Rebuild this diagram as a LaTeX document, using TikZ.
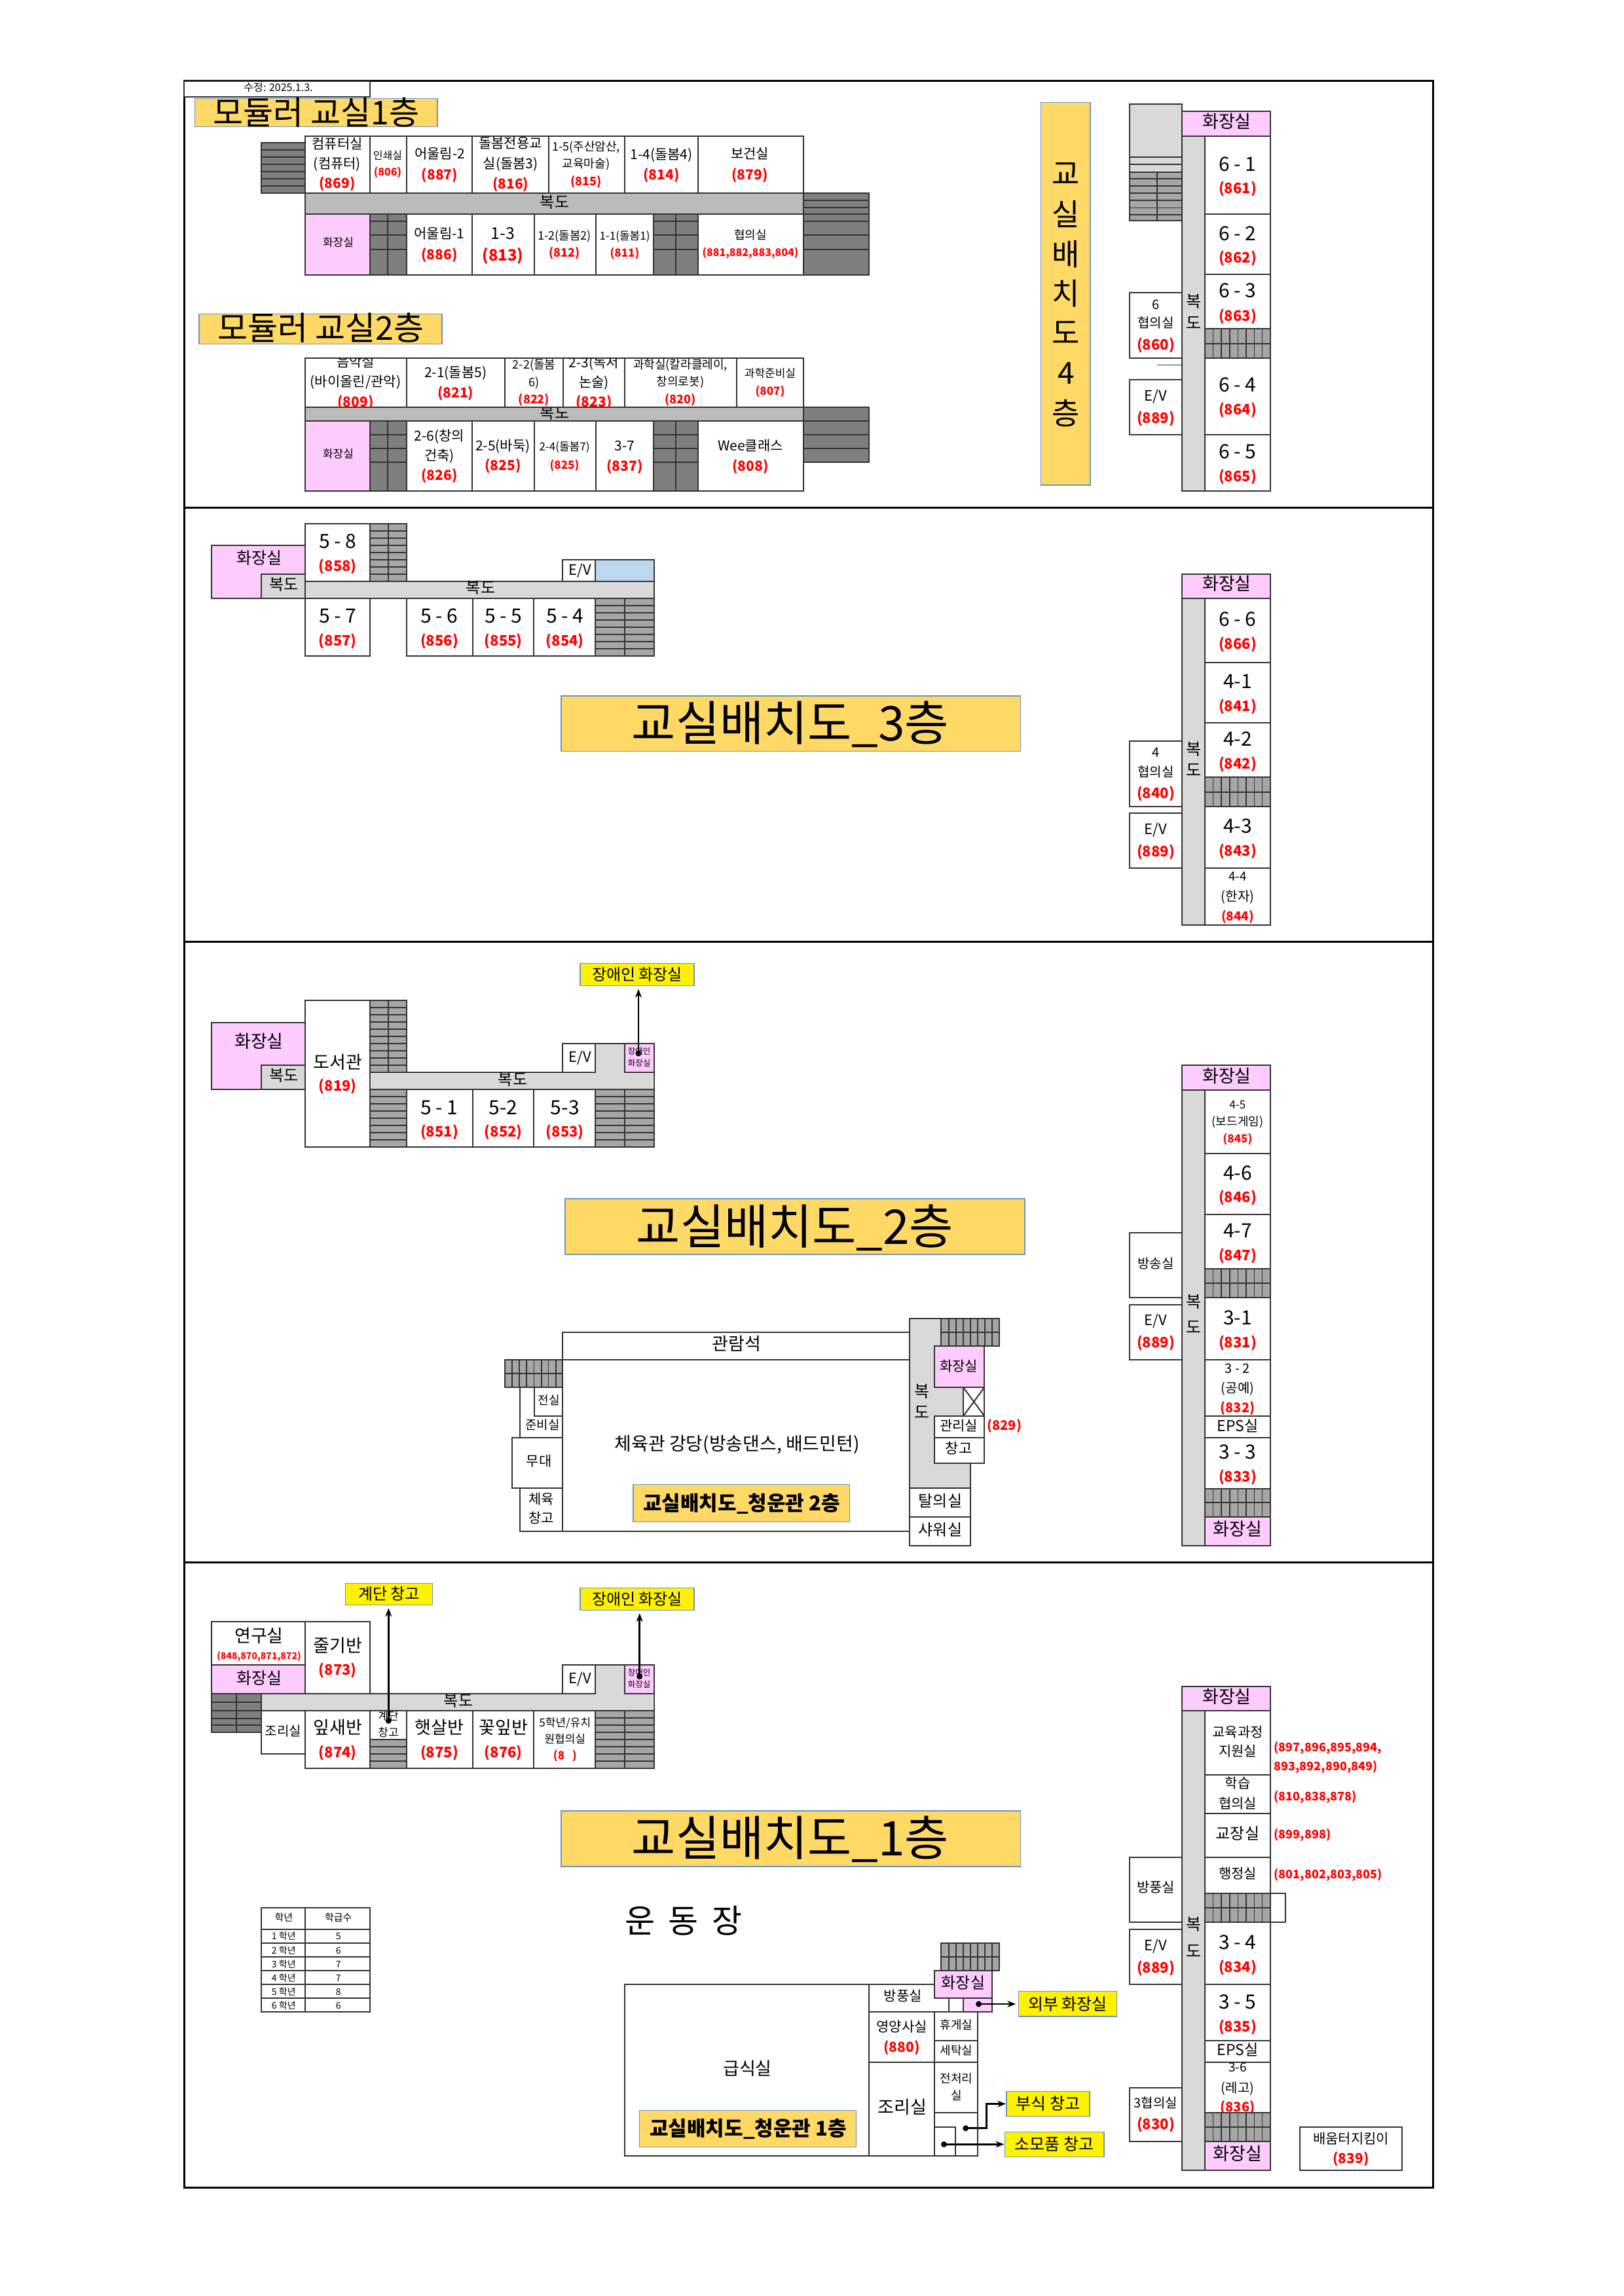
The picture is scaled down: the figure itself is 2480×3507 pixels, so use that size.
\documentclass[tikz,border=0pt]{standalone}
\usepackage{fontspec}
\setmainfont{Noto Sans CJK KR}
\usetikzlibrary{arrows.meta}
\definecolor{pinkroom}{HTML}{FFCCFF}
\definecolor{hallA}{HTML}{BBBBBB}
\definecolor{hallB}{HTML}{D9D9D9}
\definecolor{stairA}{HTML}{7F7F7F}
\definecolor{stairB}{HTML}{A6A6A6}
\definecolor{titleY}{HTML}{FFD966}
\definecolor{titleB}{HTML}{6C93C4}
\definecolor{liftB}{HTML}{BDD7EE}
\definecolor{numred}{HTML}{FF0000}
\definecolor{wall}{HTML}{333333}
\newcounter{tn}
\tikzset{
  roomline/.style={draw=wall,line width=2pt},
  stairline/.style={draw=wall,line width=1.8pt},
  txt/.style={inner sep=0pt,outer sep=0pt,align=center},
  titlebox/.style={fill=titleY,draw=titleB,line width=1.3pt},
  ylabel/.style={fill=yellow,draw=titleB,line width=1.3pt,inner sep=0pt,outer sep=0pt},
  conn/.style={line width=2.8pt,-{Stealth[length=13pt,width=10pt]}},
  frameline/.style={draw=black,line width=3pt}
}
\newcommand\Rm[5]{\path[roomline,fill=#5] (#1,#2) rectangle (#3,#4);}
\newcommand\Tx[4]{\stepcounter{tn}\node[txt,font=\fontsize{#3}{#3}\selectfont,text height=#3*0.8pt,text depth=#3*0.08pt] (t\arabic{tn}) at (#1,#2) {#4};}
\newcommand\Bx[4]{\stepcounter{tn}\node[txt,font=\fontsize{#3}{#3}\selectfont\bfseries,text height=#3*0.8pt,text depth=#3*0.08pt] (t\arabic{tn}) at (#1,#2) {#4};}
\newcommand\Rd[4]{\stepcounter{tn}\node[txt,text=numred,font=\fontsize{#3}{#3}\selectfont\bfseries,text height=#3*0.8pt,text depth=#3*0.08pt] (t\arabic{tn}) at (#1,#2) {#4};}
\newcommand\RdW[4]{\stepcounter{tn}\node[txt,anchor=west,text=numred,font=\fontsize{#3}{#3}\selectfont\bfseries,text height=#3*0.8pt,text depth=#3*0.08pt] (t\arabic{tn}) at (#1,#2) {#4};}
% horizontal and vertical line sets
\newcommand\HL[3]{\foreach \yy in {#3} \draw[stairline] (#1,\yy) -- (#2,\yy);}
\newcommand\VL[3]{\foreach \xx in {#3} \draw[stairline] (\xx,#1) -- (\xx,#2);}
% stair column beside the long corridor
\newcommand\ColStair[3]{\Rm{1840}{#1}{1939.7}{#3}{stairB}\HL{1840}{1939.7}{#2}\VL{#1}{#3}{1852.5,1865,1877.7,1890.4,1903,1915.5,1927.5}}
\newcommand\StEleven[6]{\Rm{#1}{#2}{#3}{#4}{#5}\HL{#1}{#3}{#6}}
\begin{document}
\begin{tikzpicture}[x=1pt,y=-1pt]
\useasboundingbox (0,0) rectangle (2480,3507);
\fill[white] (0,0) rectangle (2480,3507);
%--- frame
\draw[frameline] (281,123.5) rectangle (2188,3341);
\draw[frameline] (281,775) -- (2188,775);
\draw[frameline] (281,1438) -- (2188,1438);
\draw[frameline] (281,2386) -- (2188,2386);
\Rm{281}{123.5}{565}{148}{white}
\Tx{425}{134}{16}{수정: 2025.1.3.}
%--- module titles
\path[titlebox] (297.5,150.4) rectangle (668,193.3);
\Tx{483}{172}{50}{모듈러 교실1층}
\path[titlebox] (304,479.5) rectangle (675,525.4);
\Tx{489.6}{501.4}{50}{모듈러 교실2층}
%--- module floor 1
\StEleven{399}{218}{466}{295.2}{stairA}{229,240,251,262,273,283.8}
\Rm{466}{207.6}{565}{295.2}{white}
\Rm{565}{207.6}{620.5}{295.2}{white}
\Rm{620.5}{207.6}{721}{295.2}{white}
\Rm{721}{207.6}{837.5}{295.2}{white}
\Rm{837.5}{207.6}{954}{295.2}{white}
\Rm{954}{207.6}{1065.5}{295.2}{white}
\Rm{1065.5}{207.6}{1226.6}{295.2}{white}
\Rm{466}{295.2}{1226.6}{327.2}{hallA}
\Rm{466}{327.2}{565}{419.8}{pinkroom}
\Rm{565}{327.2}{620.5}{419.8}{stairA}\HL{565}{620.5}{337.7,359.2,381}\VL{327.2}{419.8}{592}
\Rm{620.5}{327.2}{721}{419.8}{white}
\Rm{721}{327.2}{815.5}{419.8}{white}
\Rm{815.5}{327.2}{910}{419.8}{white}
\Rm{910}{327.2}{998}{419.8}{white}
\Rm{998}{327.2}{1065.5}{419.8}{stairA}\HL{998}{1065.5}{337.7,359.2,381}\VL{327.2}{419.8}{1032}
\Rm{1065.5}{327.2}{1226.6}{419.8}{white}
\StEleven{1226.6}{295.2}{1327}{419.8}{stairA}{306,317,327.2,337.7,359.2,381}
\Tx{515}{220}{21}{컴퓨터실}\Tx{515}{250}{21}{(컴퓨터)}\Rd{515}{280}{21}{(869)}
\Tx{592}{237.5}{16}{인쇄실}\Rd{592}{263}{16}{(806)}
\Tx{671.5}{235}{21}{어울림-2}\Rd{671.5}{266.6}{21}{(887)}
\Tx{779.6}{219.4}{21}{돌봄전용교}\Tx{779.6}{250}{21}{실(돌봄3)}\Rd{779.6}{281}{21}{(816)}
\Tx{895}{224.5}{18}{1-5(주산암산,}\Tx{895}{250}{18}{교육마술)}\Rd{895}{277}{18}{(815)}
\Tx{1010}{236}{21}{1-4(돌봄4)}\Rd{1010}{266.6}{21}{(814)}
\Tx{1145}{234.6}{21}{보건실}\Rd{1145}{266.6}{21}{(879)}
\Tx{847}{309}{24}{복도}
\Tx{516.5}{370}{17}{화장실}
\Tx{671}{357}{21}{어울림-1}\Rd{671}{388.6}{21}{(886)}
\Tx{768}{356}{25}{1-3}\Rd{768}{390}{24}{(813)}
\Tx{862}{360}{18}{1-2(돌봄2)}\Rd{862}{386}{18}{(812)}
\Tx{954}{360}{17}{1-1(돌봄1)}\Rd{954}{386}{17}{(811)}
\Tx{1146}{359}{18}{협의실}\Rd{1146}{386}{16}{(881,882,883,804)}
%--- module floor 2
\Rm{466}{546.9}{620.5}{621.8}{white}
\Rm{620.5}{546.9}{771}{621.8}{white}
\Rm{771}{546.9}{859.5}{621.8}{white}
\Rm{859.5}{546.9}{954}{621.8}{white}
\Rm{954}{546.9}{1125}{621.8}{white}
\Rm{1125}{546.9}{1226.6}{621.8}{white}
\Rm{466}{621.8}{1226.6}{643.2}{hallA}
\Rm{466}{643.2}{565}{749.7}{pinkroom}
\Rm{565}{643.2}{620.5}{749.7}{stairA}\HL{565}{620.5}{664,685,706}\VL{643.2}{749.7}{592}
\Rm{620.5}{643.2}{721}{749.7}{white}
\Rm{721}{643.2}{815.5}{749.7}{white}
\Rm{815.5}{643.2}{910}{749.7}{white}
\Rm{910}{643.2}{998}{749.7}{white}
\Rm{998}{643.2}{1065.5}{749.7}{stairA}\HL{998}{1065.5}{664,685,706}\VL{643.2}{749.7}{1032}
\Rm{1065.5}{643.2}{1226.6}{749.7}{white}
\StEleven{1226.6}{621.8}{1327}{706}{stairA}{643.2,664,685}
\begin{scope}\clip (466,547) rectangle (620.5,621);
\Tx{543}{553}{21}{음악실}\Tx{543}{583}{21}{(바이올린/관악)}\Rd{543}{614}{21}{(809)}
\end{scope}
\Tx{695.6}{569}{21}{2-1(돌봄5)}\Rd{695.6}{599.5}{21}{(821)}
\Tx{815.5}{557}{18}{2-2(돌봄}\Tx{815.5}{584}{18}{6)}\Rd{815.5}{610}{18}{(822)}
\begin{scope}\clip (859.5,547) rectangle (954,621);
\Tx{907}{554}{21}{2-3(독서}\Tx{907}{584}{21}{논술)}\Rd{907}{614}{21}{(823)}
\end{scope}
\Tx{1039}{557}{18}{과학실(칼라클레이,}\Tx{1039}{583.5}{18}{창의로봇)}\Rd{1039}{610}{18}{(820)}
\Tx{1176}{570}{17}{과학준비실}\Rd{1176}{597}{17}{(807)}
\begin{scope}\clip (466,623) rectangle (1226,643);
\Tx{847}{630.6}{24}{복도}
\end{scope}
\Tx{516.5}{693}{17}{화장실}
\Tx{671}{666}{21}{2-6(창의}\Tx{671}{696}{21}{건축)}\Rd{671}{726}{21}{(826)}
\Tx{768}{680.7}{21}{2-5(바둑)}\Rd{768}{711}{21}{(825)}
\Tx{862}{682}{17}{2-4(돌봄7)}\Rd{862}{710}{17}{(825)}
\Tx{954}{681}{21}{3-7}\Rd{954}{712}{21}{(837)}
\Tx{1146}{681}{21}{Wee클래스}\Rd{1146}{712}{21}{(808)}
%--- 4F title
\path[titlebox] (1589.5,156.5) rectangle (1665,741);
\Tx{1628}{266}{46}{교}\Tx{1628}{328}{46}{실}\Tx{1628}{389}{46}{배}\Tx{1628}{449}{46}{치}\Tx{1628}{508.5}{46}{도}\Tx{1628}{570}{46}{4}\Tx{1628}{631.6}{46}{층}
%--- 4F column
\Rm{1725}{159}{1805.3}{337}{hallB}
\HL{1725}{1805.3}{240,251}
\Rm{1725}{262.7}{1805.3}{337}{stairB}\HL{1725}{1805.3}{273,284,295,306,317.4,328}\VL{262.7}{337}{1767}
\Rm{1805.3}{170}{1939.7}{207.5}{pinkroom}
\Rm{1805.3}{207.5}{1840}{750}{hallB}
\Rm{1840}{207.5}{1939.7}{327}{white}
\Rm{1840}{327}{1939.7}{419.4}{white}
\Rm{1840}{419.4}{1939.7}{502}{white}
\ColStair{502}{524.7}{546.7}
\Rm{1840}{546.7}{1939.7}{664}{white}
\Rm{1840}{664}{1939.7}{750}{white}
\Rm{1725}{447}{1805.3}{546.7}{white}
\draw[stairline] (1767,557.4) -- (1805.3,557.4);
\Rm{1725}{580}{1805.3}{664}{white}
\Tx{1873.5}{186}{27}{화장실}
\Tx{1822.6}{460}{25}{복}\Tx{1822.6}{493}{25}{도}
\Tx{1890}{250.6}{30}{6 - 1}\Rd{1890}{288}{22}{(861)}
\Tx{1890}{356.4}{30}{6 - 2}\Rd{1890}{394}{22}{(862)}
\Tx{1890}{444}{30}{6 - 3}\Rd{1890}{482.4}{22}{(863)}
\Tx{1890}{588}{30}{6 - 4}\Rd{1890}{626}{22}{(864)}
\Tx{1890}{689.7}{30}{6 - 5}\Rd{1890}{728}{22}{(865)}
\Tx{1765}{465}{20}{6}\Tx{1765}{493.6}{20}{협의실}\Rd{1765}{527}{22}{(860)}
\Tx{1765}{604.7}{22}{E/V}\Rd{1765}{638.7}{22}{(889)}
%--- 3F left
\Rm{322.8}{832.7}{465.8}{914}{pinkroom}
\Rm{399}{876.7}{465.8}{914}{hallB}
\Rm{465.8}{800}{565}{888}{white}
\Rm{565}{800}{621}{888}{stairB}\HL{565}{621}{811,822,833,844,855,866,877}\VL{800}{888}{593}
\Rm{859}{855}{909.3}{888}{white}
\Rm{909.3}{855}{999}{888}{liftB}
\Rm{465.8}{888}{999}{914}{hallB}
\Rm{465.8}{914}{565}{1002}{white}
\Rm{621}{914}{721.7}{1002}{white}
\Rm{721.7}{914}{815}{1002}{white}
\Rm{815}{914}{909.3}{1002}{white}
\Rm{909.3}{914}{999}{1002}{stairB}\HL{909.3}{999}{925,936,947,958,969,980,991}\VL{914}{1002}{954}
\Tx{395.5}{852}{25}{화장실}\Tx{433.8}{892.7}{24}{복도}\Tx{734}{898}{24}{복도}
\Tx{515.7}{826.7}{30}{5 - 8}\Rd{515.7}{865}{22}{(858)}
\Tx{515.7}{940.7}{30}{5 - 7}\Rd{515.7}{979}{22}{(857)}
\Tx{671}{940.7}{30}{5 - 6}\Rd{671}{979}{22}{(856)}
\Tx{768.7}{940.7}{30}{5 - 5}\Rd{768.7}{979}{22}{(855)}
\Tx{862.8}{940.7}{30}{5 - 4}\Rd{862.8}{979}{22}{(854)}
\Tx{886}{870.7}{22}{E/V}
\path[titlebox] (857,1063) rectangle (1558.6,1147.7);
\Tx{1207}{1105}{73}{교실배치도\_3층}
%--- 3F right
\Rm{1805.3}{876.7}{1939.7}{914}{pinkroom}
\Rm{1805.3}{914}{1840}{1412.5}{hallB}
\Rm{1840}{914}{1939.7}{1011.6}{white}
\Rm{1840}{1011.6}{1939.7}{1104.3}{white}
\Rm{1840}{1104.3}{1939.7}{1187}{white}
\ColStair{1187}{1209.7}{1231.5}
\Rm{1840}{1231.5}{1939.7}{1326.4}{white}
\Rm{1840}{1326.4}{1939.7}{1412.5}{white}
\Rm{1725}{1131.5}{1805.3}{1231.5}{white}
\Rm{1725}{1242.4}{1805.3}{1326.4}{white}
\Tx{1873.5}{892}{27}{화장실}
\Tx{1822.7}{1144.6}{25}{복}\Tx{1822.7}{1176}{25}{도}
\Tx{1890}{946}{30}{6 - 6}\Rd{1890}{983.6}{22}{(866)}
\Tx{1890}{1040.7}{30}{4-1}\Rd{1890}{1079}{22}{(841)}
\Tx{1890}{1129}{30}{4-2}\Rd{1890}{1167}{22}{(842)}
\Tx{1890}{1262}{30}{4-3}\Rd{1890}{1300}{22}{(843)}
\Tx{1890}{1339}{19}{4-4}\Tx{1890}{1369}{20}{(한자)}\Rd{1890}{1400}{19}{(844)}
\Tx{1765}{1149.7}{20}{4}\Tx{1765}{1179}{20}{협의실}\Rd{1765}{1211.5}{22}{(840)}
\Tx{1765}{1267}{22}{E/V}\Rd{1765}{1300.6}{22}{(889)}
%--- 2F left
\Rm{322.8}{1561.7}{465.8}{1664.3}{pinkroom}
\Rm{399}{1627.3}{465.8}{1664.3}{hallB}
\Rm{465.8}{1528.3}{565}{1752.3}{white}
\Rm{565}{1528.3}{621}{1638.3}{stairB}\HL{565}{621}{1539.3,1550.3,1561.3,1572.3,1583.3,1594.3,1605.3,1616.3,1627.3}\VL{1528.3}{1638.3}{593}
\Rm{909.3}{1594.3}{954}{1638.3}{hallB}
\Rm{859}{1594.3}{909.3}{1638.3}{white}
\Rm{954}{1594.3}{999}{1638.3}{pinkroom}
\path[fill=hallB] (567,1640) rectangle (997,1663);
\draw[roomline] (565,1638.3) -- (909.3,1638.3) (954,1638.3) -- (999,1638.3) -- (999,1664.3) -- (565,1664.3);
\path[fill=hallB] (910.3,1595.3) rectangle (953,1663);
\Rm{565}{1664.3}{621}{1752.3}{stairB}\HL{565}{621}{1675.3,1686.3,1697.3,1708.3,1719.3,1730.3,1741.3}
\Rm{621}{1664.3}{721.7}{1752.3}{white}
\Rm{721.7}{1664.3}{815}{1752.3}{white}
\Rm{815}{1664.3}{909.3}{1752.3}{white}
\Rm{909.3}{1664.3}{999}{1752.3}{stairB}\HL{909.3}{999}{1675.3,1686.3,1697.3,1708.3,1719.3,1730.3,1741.3}\VL{1664.3}{1752.3}{954}
\Tx{395.5}{1591}{27}{화장실}\Tx{433.8}{1642.7}{24}{복도}
\Tx{515.7}{1622.7}{27}{도서관}\Rd{515.7}{1659}{22}{(819)}
\Tx{783}{1649}{24}{복도}\Tx{886}{1615}{22}{E/V}
\Tx{976}{1606}{12.5}{장애인}\Tx{976}{1624}{12.5}{화장실}
\Tx{671}{1691.7}{30}{5 - 1}\Rd{671}{1729}{22}{(851)}
\Tx{768.7}{1691.7}{30}{5-2}\Rd{768.7}{1729}{22}{(852)}
\Tx{862.8}{1691.7}{30}{5-3}\Rd{862.8}{1729}{22}{(853)}
\node[ylabel,minimum width=174pt,minimum height=34pt,font=\fontsize{24}{24}\selectfont] (labA) at (973,1488.7) {장애인 화장실};
\coordinate (dotA) at (975,1609);
\fill (dotA) circle (4.5);
\draw[conn,shorten >=5pt] (dotA) -- (labA.south -| dotA);
\path[titlebox] (863,1831) rectangle (1565,1916);
\Tx{1214}{1874}{73}{교실배치도\_2층}
%--- gym
\Rm{859}{2034.7}{1388.6}{2077}{white}
\Rm{859}{2077}{1388.6}{2339}{white}
\Rm{793.6}{2119}{859}{2196}{white}
\Rm{815.5}{2119}{859}{2163.3}{white}
\Rm{781.8}{2196}{859}{2273.3}{white}
\Rm{793.6}{2273.3}{859}{2339}{white}
\Rm{771}{2077}{859}{2119}{stairB}\HL{771}{859}{2098}\VL{2077}{2119}{781.8,793,804.3,815.5,826.8,837.5,848.7}
\Rm{1388.6}{2014}{1481.8}{2273.3}{hallB}
\Rm{1437.4}{2014}{1525.7}{2056}{stairB}\HL{1437.4}{1525.7}{2035}\VL{2014}{2056}{1448.6,1460,1471,1481.8,1493,1503.8,1515}
\Rm{1426.7}{2056}{1503.3}{2119}{pinkroom}
\Rm{1471}{2119}{1503.3}{2163}{white}
\draw[roomline] (1471,2119) -- (1503.3,2163) (1503.3,2119) -- (1471,2163);
\Rm{1426.7}{2163}{1503.3}{2196}{white}
\Rm{1426.7}{2196}{1503.3}{2235}{white}
\Rm{1388.6}{2273.3}{1481.8}{2317}{white}
\Rm{1388.6}{2317}{1481.8}{2361}{white}
\Tx{1124.6}{2053}{27}{관람석}
\Tx{1125.6}{2205}{28}{체육관 강당(방송댄스, 배드민턴)}
\Tx{838.5}{2139}{18}{전실}\Tx{828.4}{2176.7}{19}{준비실}\Tx{823}{2231.7}{21}{무대}
\Tx{826.8}{2290}{21}{체육}\Tx{826.8}{2319.3}{21}{창고}
\Tx{1464}{2086.7}{21}{화장실}\Tx{1464}{2178}{21}{관리실}\Rd{1533.8}{2177.7}{20}{(829)}
\Tx{1464}{2212.7}{22}{창고}\Tx{1436}{2292.7}{24}{탈의실}\Tx{1436}{2336.7}{24}{샤워실}
\Tx{1408}{2125}{25}{복}\Tx{1408}{2157.7}{25}{도}
\path[titlebox] (967,2267.7) rectangle (1297.6,2324.3);
\Bx{1132.6}{2296.7}{31}{교실배치도\_청운관 2층}
%--- 2F right
\Rm{1805.3}{1627.4}{1939.7}{1664.7}{pinkroom}
\Rm{1805.3}{1664.7}{1840}{2361}{hallB}
\Rm{1840}{1664.7}{1939.7}{1762}{white}
\Rm{1840}{1762}{1939.7}{1855}{white}
\Rm{1840}{1855}{1939.7}{1937.8}{white}
\ColStair{1937.8}{1960}{1982}
\Rm{1840}{1982}{1939.7}{2077}{white}
\Rm{1840}{2077}{1939.7}{2163}{white}
\Rm{1840}{2163}{1939.7}{2195.5}{white}
\Rm{1840}{2195.5}{1939.7}{2273.6}{white}
\ColStair{2273.6}{2295}{2317.4}
\Rm{1840}{2317.4}{1939.7}{2361}{pinkroom}
\Rm{1725}{1882.6}{1805.3}{1982}{white}
\Rm{1725}{1993}{1805.3}{2077}{white}
\Tx{1873.5}{1643.8}{27}{화장실}
\Tx{1822.7}{1988}{25}{복}\Tx{1822.7}{2027.9}{25}{도}
\Tx{1890}{1687}{17}{4-5}\Tx{1890}{1713}{18}{(보드게임)}\Rd{1890}{1739}{17}{(845)}
\Tx{1890}{1791.5}{30}{4-6}\Rd{1890}{1829}{22}{(846)}
\Tx{1890}{1879.6}{30}{4-7}\Rd{1890}{1917.4}{22}{(847)}
\Tx{1890}{2012.4}{30}{3-1}\Rd{1890}{2050.7}{22}{(831)}
\Tx{1890}{2090}{20}{3 - 2}\Tx{1890}{2120}{20}{(공예)}\Rd{1890}{2150}{20}{(832)}
\Tx{1890}{2178}{23}{EPS실}
\Tx{1890}{2217.4}{30}{3 - 3}\Rd{1890}{2255.7}{22}{(833)}
\Tx{1890}{2335.3}{27}{화장실}
\Tx{1765}{1930}{20}{방송실}
\Tx{1765}{2017}{22}{E/V}\Rd{1765}{2050.7}{22}{(889)}
%--- 1F left
\Rm{322.8}{2477.3}{465.8}{2543.3}{white}
\Rm{322.8}{2543.3}{465.8}{2586.7}{pinkroom}
\Rm{465.8}{2477.3}{565}{2586.7}{white}
\Rm{322.8}{2586.7}{399}{2646}{stairA}\HL{322.8}{399}{2600,2613.3,2624.7,2635.3}\VL{2586.7}{2646}{361}
\Rm{859}{2543.3}{909.3}{2586.7}{white}
\Rm{909.3}{2543.3}{954}{2586.7}{hallB}
\Rm{954}{2543.3}{999}{2586.7}{pinkroom}
\path[fill=hallB] (400,2588) rectangle (997,2612);
\draw[roomline] (909.3,2586.7) -- (399,2586.7) -- (399,2613.3) -- (999,2613.3) -- (999,2586.7) -- (954,2586.7);
\path[fill=hallB] (910.3,2544.3) rectangle (953,2612);
\Rm{399}{2613.3}{465.8}{2678.7}{white}
\Rm{465.8}{2613.3}{565}{2701}{white}
\Rm{565}{2613.3}{621}{2656.7}{white}
\Rm{565}{2656.7}{621}{2701}{stairB}\HL{565}{621}{2668.3,2679.3,2690}
\Rm{621}{2613.3}{721.7}{2701}{white}
\Rm{721.7}{2613.3}{815}{2701}{white}
\Rm{815}{2613.3}{909.3}{2701}{white}
\Rm{909.3}{2613.3}{999}{2701}{stairB}\HL{909.3}{999}{2624.3,2635.3,2646.3,2657.3,2668.3,2679.3,2690.3}\VL{2613.3}{2701}{954}
\Tx{395.5}{2498.3}{27}{연구실}\Rd{395.5}{2529.3}{14}{(848,870,871,872)}
\Tx{395.5}{2563.3}{25}{화장실}
\Tx{515.7}{2514}{27}{줄기반}\Rd{515.7}{2551}{22}{(873)}
\Tx{886}{2564}{22}{E/V}
\Tx{976}{2555}{12.5}{장애인}\Tx{976}{2572.7}{12.5}{화장실}
\Tx{700}{2597.7}{24}{복도}
\Tx{432.3}{2644}{20}{조리실}
\Tx{515.7}{2639}{27}{잎새반}\Rd{515.7}{2676.7}{22}{(874)}
\begin{scope}\clip (565,2614) rectangle (621,2656);
\Tx{593}{2621}{17}{계단}\Tx{593}{2646}{17}{창고}
\end{scope}
\Tx{671}{2639}{27}{햇살반}\Rd{671}{2676.7}{22}{(875)}
\Tx{768.7}{2639}{27}{꽃잎반}\Rd{768.7}{2676.7}{22}{(876)}
\Tx{862.8}{2631.7}{17}{5학년/유치}\Tx{862.8}{2656}{17}{원협의실}\Rd{862.8}{2681.7}{17}{(8 \ \ )}
\node[ylabel,minimum width=133pt,minimum height=33pt,font=\fontsize{24}{24}\selectfont] (labB) at (594.2,2434.8) {계단 창고};
\coordinate (dotB) at (593.3,2628.3);
\fill (dotB) circle (4.5);
\draw[conn,shorten >=5pt] (dotB) -- (labB.south -| dotB);
\node[ylabel,minimum width=174pt,minimum height=34pt,font=\fontsize{24}{24}\selectfont] (labC) at (973,2442.2) {장애인 화장실};
\coordinate (dotC) at (976.7,2560.7);
\fill (dotC) circle (4.5);
\draw[conn,shorten >=5pt] (dotC) -- (labC.south -| dotC);
\path[titlebox] (857,2766) rectangle (1558.6,2851);
\Tx{1207}{2808}{73}{교실배치도\_1층}
\Tx{1044}{2934}{50}{운\hspace{.42em}동\hspace{.42em}장}
%--- table
\draw[roomline,fill=white] (398.7,2914) rectangle (565,3073);
\HL{398.7}{565}{2946.7,2968,2989,3010.3,3031.3,3052.3}
\VL{2914}{3073}{465.7}
\Tx{433.3}{2929}{15}{학년}\Tx{516.7}{2929}{15}{학급수}
\Tx{433.3}{2957.7}{14}{1 학년}\Tx{516.7}{2957.7}{14}{5}
\Tx{433.3}{2979}{14}{2 학년}\Tx{516.7}{2979}{14}{6}
\Tx{433.3}{3000}{14}{3 학년}\Tx{516.7}{3000}{14}{7}
\Tx{433.3}{3021}{14}{4 학년}\Tx{516.7}{3021}{14}{7}
\Tx{433.3}{3042}{14}{5 학년}\Tx{516.7}{3042}{14}{8}
\Tx{433.3}{3063}{14}{6 학년}\Tx{516.7}{3063}{14}{6}
%--- cafeteria
\Rm{953.8}{3031}{1327.2}{3292.7}{white}
\Rm{1327.2}{3031}{1448.7}{3073}{white}
\Rm{1437.4}{2967.7}{1526.2}{3010.3}{stairB}\HL{1437.4}{1526.2}{2989}\VL{2967.7}{3010.3}{1448.7,1460,1470.6,1481.8,1493,1504,1515}
\Rm{1426.7}{3010.3}{1515}{3052}{pinkroom}
\Rm{1448.7}{3052}{1471}{3073}{white}
\Rm{1471}{3052}{1515}{3073}{pinkroom}
\Rm{1327.2}{3073}{1426.7}{3150}{white}
\Rm{1327.2}{3150}{1426.7}{3292.7}{white}
\Rm{1426.7}{3073}{1492.6}{3116.7}{white}
\Rm{1426.7}{3116.7}{1492.6}{3150}{white}
\Rm{1426.7}{3150}{1492.6}{3226.7}{white}
\Rm{1426.7}{3226.7}{1492.6}{3292.7}{white}
\Rm{1426.7}{3249}{1459.4}{3292.7}{white}
\Tx{1141.5}{3159.3}{27}{급식실}
\path[titlebox] (976.7,3223.3) rectangle (1307.3,3279.3);
\Bx{1142.6}{3251.7}{31}{교실배치도\_청운관 1층}
\Tx{1378.8}{3049.3}{21}{방풍실}
\Tx{1471}{3029.3}{24}{화장실}
\Tx{1377}{3095.7}{21}{영양사실}\Rd{1377}{3126.7}{21}{(880)}
\Tx{1377.8}{3218.3}{27}{조리실}
\Tx{1460.4}{3093.3}{18}{휴게실}\Tx{1460.4}{3131.7}{18}{세탁실}
\Tx{1460.4}{3175}{18}{전처리}\Tx{1460.4}{3200.7}{18}{실}
\node[ylabel,minimum width=150.5pt,minimum height=38.7pt,font=\fontsize{25}{25}\selectfont] (labD) at (1630.5,3060.7) {외부 화장실};
\node[ylabel,minimum width=127pt,minimum height=38.4pt,font=\fontsize{25}{25}\selectfont] (labE) at (1600.5,3213.5) {부식 창고};
\node[ylabel,minimum width=151.6pt,minimum height=38.4pt,font=\fontsize{25}{25}\selectfont] (labF) at (1610.2,3275.5) {소모품 창고};
\coordinate (dotD) at (1494.6,3061);
\coordinate (dotE) at (1474.7,3250.7);
\coordinate (dotF) at (1441.5,3275.3);
\fill (dotD) circle (4.5);
\fill (dotE) circle (4.5);
\fill (dotF) circle (4.5);
\draw[conn,shorten >=4pt] (dotD) -- (labD.west |- dotD);
\draw[conn,shorten >=1pt] (dotE) -- (1506.3,3250.7) |- (labE.west);
\draw[conn,shorten >=1pt] (dotF) -- (labF.west |- dotF);
%--- 1F right
\Rm{1805.3}{2575.9}{1939.7}{2613.2}{pinkroom}
\Rm{1805.3}{2613.2}{1840}{3315}{hallB}
\Rm{1840}{2613.2}{1939.7}{2710.7}{white}
\Rm{1840}{2710.7}{1939.7}{2770.4}{white}
\Rm{1840}{2770.4}{1939.7}{2837}{white}
\Rm{1840}{2837}{1939.7}{2891.8}{white}
\Rm{1939.7}{2891.8}{1962.7}{2936}{white}
\ColStair{2891.8}{2914}{2936}
\Rm{1840}{2936}{1939.7}{3031}{white}
\Rm{1840}{3031}{1939.7}{3117}{white}
\Rm{1840}{3117}{1939.7}{3150}{white}
\Rm{1840}{3150}{1939.7}{3227}{white}
\Rm{1840}{3271}{1939.7}{3315}{pinkroom}
\Rm{1725}{2837}{1805.3}{2936}{white}
\Rm{1725}{2947}{1805.3}{3031}{white}
\Rm{1725}{3189.3}{1805.3}{3271}{white}
\Rm{1984.7}{3249}{2141.3}{3314.7}{white}
\Tx{1873.5}{2591.3}{27}{화장실}
\Tx{1822.7}{2939.6}{25}{복}\Tx{1822.7}{2980.3}{25}{도}
\Tx{1890}{2645.5}{21}{교육과정}\Tx{1890}{2675.4}{21}{지원실}
\Tx{1890}{2724}{21}{학습}\Tx{1890}{2755}{21}{협의실}
\Tx{1890}{2801}{24}{교장실}\Tx{1890}{2862.4}{21}{행정실}
\RdW{1945.7}{2669.4}{18}{(897,896,895,894,}
\RdW{1945.7}{2697.8}{18}{893,892,890,849)}
\RdW{1945.7}{2744}{18}{(810,838,878)}
\RdW{1945.7}{2802}{18}{(899,898)}
\RdW{1945.7}{2863.4}{18}{(801,802,803,805)}
\Tx{1890}{2967}{30}{3 - 4}\Rd{1890}{3005}{22}{(834)}
\Tx{1890}{3057.5}{30}{3 - 5}\Rd{1890}{3095.8}{22}{(835)}
\Tx{1890}{3131}{23}{EPS실}
\Tx{1890}{3158}{19}{3-6}\Tx{1890}{3188.8}{20}{(레고)}\Rd{1890}{3218.7}{20}{(836)}
\ColStair{3227}{3249}{3271}
\Tx{1890}{3289.3}{27}{화장실}
\Tx{1765}{2883}{21}{방풍실}
\Tx{1765}{2971.9}{22}{E/V}\Rd{1765}{3005.7}{22}{(889)}
\Tx{1765}{3212.7}{20}{3협의실}\Rd{1765}{3245}{22}{(830)}
\Tx{2063}{3266.4}{21}{배움터지킴이}\Rd{2063}{3297.2}{21}{(839)}
\end{tikzpicture}
\end{document}
